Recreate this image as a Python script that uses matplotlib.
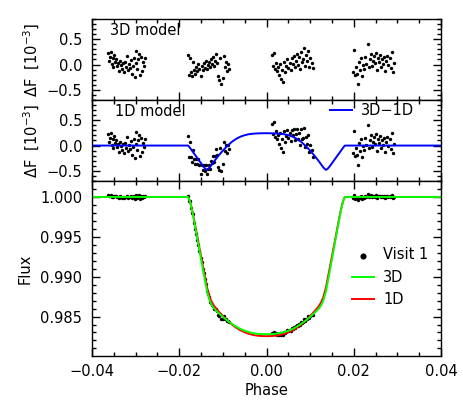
import matplotlib
matplotlib.use('Agg')
from matplotlib import pyplot as plt
from matplotlib.ticker import MultipleLocator, FuncFormatter

plt.rcParams['font.family'] = ['DejaVu Sans']
plt.rcParams['font.size'] = 10.5
plt.rcParams['axes.unicode_minus'] = True

# model curves (phase, flux of 3D and 1D limb darkening, 3D-1D in 1e-3)
model_phase = [-0.0400, -0.0180, -0.0178, -0.0175, -0.0170, -0.0165, -0.0160, -0.0155, -0.0150,
               -0.0145, -0.0140, -0.0136, -0.0130, -0.0125, -0.0120, -0.0110, -0.0100, -0.0090,
               -0.0080, -0.0070, -0.0060, -0.0050, -0.0040, -0.0030, -0.0020, -0.0010, 0.0000,
               0.0010, 0.0020, 0.0030, 0.0040, 0.0050, 0.0060, 0.0070, 0.0080, 0.0090, 0.0100,
               0.0110, 0.0120, 0.0125, 0.0130, 0.0136, 0.0140, 0.0145, 0.0150, 0.0155, 0.0160,
               0.0165, 0.0170, 0.0175, 0.0178, 0.0180, 0.0400]
model_3d = [1.00000, 1.00000, 0.99980, 0.99935, 0.99815, 0.99670, 0.99520, 0.99370, 0.99220,
            0.99070, 0.98925, 0.98810, 0.98695, 0.98640, 0.98600, 0.98545, 0.98495, 0.98450,
            0.98410, 0.98375, 0.98345, 0.98322, 0.98304, 0.98291, 0.98283, 0.98279, 0.98278,
            0.98279, 0.98283, 0.98291, 0.98304, 0.98322, 0.98345, 0.98375, 0.98410, 0.98450,
            0.98495, 0.98545, 0.98600, 0.98640, 0.98695, 0.98810, 0.98925, 0.99070, 0.99220,
            0.99370, 0.99520, 0.99670, 0.99815, 0.99935, 0.99980, 1.00000, 1.00000]
model_1d = [1.00000, 1.00000, 0.99982, 0.99940, 0.99826, 0.99687, 0.99543, 0.99399, 0.99255,
            0.99111, 0.98971, 0.98858, 0.98738, 0.98677, 0.98631, 0.98565, 0.98505, 0.98451,
            0.98403, 0.98362, 0.98328, 0.98302, 0.98282, 0.98268, 0.98259, 0.98255, 0.98254,
            0.98255, 0.98259, 0.98268, 0.98282, 0.98302, 0.98328, 0.98362, 0.98403, 0.98451,
            0.98505, 0.98565, 0.98631, 0.98677, 0.98738, 0.98858, 0.98971, 0.99111, 0.99255,
            0.99399, 0.99543, 0.99687, 0.99826, 0.99940, 0.99982, 1.00000, 1.00000]
diff_3d_1d = [0.00, 0.00, -0.015, -0.05, -0.11, -0.17, -0.23, -0.29, -0.35,
              -0.41, -0.46, -0.48, -0.43, -0.37, -0.31, -0.20, -0.10, -0.01,
              0.07, 0.13, 0.175, 0.205, 0.225, 0.235, 0.240, 0.243, 0.244,
              0.243, 0.240, 0.235, 0.225, 0.205, 0.175, 0.13, 0.07, -0.01,
              -0.10, -0.20, -0.31, -0.37, -0.43, -0.48, -0.46, -0.41, -0.35,
              -0.29, -0.23, -0.17, -0.11, -0.05, -0.015, 0.00, 0.00]

# visit 1 data: phase, flux, residuals (1e-3) against 3D and 1D models
phase = [
    # orbit 1
    -0.03640, -0.03618, -0.03596, -0.03574, -0.03552, -0.03530, -0.03508, -0.03486, -0.03464, -0.03442,
    -0.03420, -0.03398, -0.03376, -0.03354, -0.03332, -0.03310, -0.03288, -0.03266, -0.03244, -0.03222,
    -0.03200, -0.03178, -0.03156, -0.03134, -0.03112, -0.03090, -0.03068, -0.03046, -0.03024, -0.03002,
    -0.02980, -0.02958, -0.02936, -0.02914, -0.02892, -0.02870, -0.02848, -0.02826, -0.02804, -0.02782,
    # orbit 2
    -0.01800, -0.01776, -0.01752, -0.01728, -0.01704, -0.01680, -0.01656, -0.01632, -0.01608, -0.01584,
    -0.01560, -0.01536, -0.01512, -0.01488, -0.01464, -0.01440, -0.01416, -0.01392, -0.01368, -0.01344,
    -0.01320, -0.01296, -0.01272, -0.01248, -0.01224, -0.01200, -0.01176, -0.01152, -0.01128, -0.01104,
    -0.01080, -0.01056, -0.01032, -0.01008, -0.00984, -0.00960, -0.00936, -0.00912, -0.00888, -0.00864,
    # orbit 3
    0.00120, 0.00144, 0.00168, 0.00192, 0.00216, 0.00240, 0.00264, 0.00288, 0.00312, 0.00336,
    0.00360, 0.00384, 0.00408, 0.00432, 0.00456, 0.00480, 0.00504, 0.00528, 0.00552, 0.00576,
    0.00600, 0.00624, 0.00648, 0.00672, 0.00696, 0.00720, 0.00744, 0.00768, 0.00792, 0.00816,
    0.00840, 0.00864, 0.00888, 0.00912, 0.00936, 0.00960, 0.00984, 0.01008, 0.01032, 0.01056,
    # orbit 4
    0.01980, 0.02004, 0.02028, 0.02052, 0.02076, 0.02100, 0.02124, 0.02148, 0.02172, 0.02196,
    0.02220, 0.02244, 0.02268, 0.02292, 0.02316, 0.02340, 0.02364, 0.02388, 0.02412, 0.02436,
    0.02460, 0.02484, 0.02508, 0.02532, 0.02556, 0.02580, 0.02604, 0.02628, 0.02652, 0.02676,
    0.02700, 0.02724, 0.02748, 0.02772, 0.02796, 0.02820, 0.02844, 0.02868, 0.02892, 0.02916,
]
flux = [
    1.00022, 1.00008, 1.00015, 1.00025, 1.00002, 1.00012, 0.99995, 1.00018, 1.00006, 1.00010,
    0.99998, 1.00004, 0.99988, 1.00008, 1.00000, 0.99992, 1.00003, 0.99985, 1.00005, 0.99996,
    1.00016, 0.99990, 1.00001, 0.99994, 1.00009, 0.99982, 0.99998, 1.00012, 0.99975, 1.00004,
    1.00027, 0.99992, 1.00010, 1.00020, 0.99980, 1.00014, 0.99988, 1.00006, 0.99998, 1.00012,
    1.00018, 0.99954, 0.99952, 0.99867, 0.99803, 0.99791, 0.99677, 0.99598, 0.99539, 0.99460,
    0.99402, 0.99320, 0.99234, 0.99182, 0.99102, 0.99045, 0.98965, 0.98910, 0.98825, 0.98779,
    0.98739, 0.98687, 0.98674, 0.98640, 0.98633, 0.98598, 0.98595, 0.98594, 0.98564, 0.98525,
    0.98505, 0.98535, 0.98473, 0.98473, 0.98504, 0.98472, 0.98472, 0.98443, 0.98447, 0.98428,
    0.98298, 0.98279, 0.98304, 0.98275, 0.98288, 0.98274, 0.98284, 0.98270, 0.98295, 0.98268,
    0.98289, 0.98267, 0.98311, 0.98295, 0.98312, 0.98328, 0.98317, 0.98332, 0.98324, 0.98351,
    0.98347, 0.98368, 0.98355, 0.98375, 0.98394, 0.98383, 0.98404, 0.98391, 0.98431, 0.98422,
    0.98436, 0.98469, 0.98443, 0.98473, 0.98474, 0.98503, 0.98484, 0.98511, 0.98515, 0.98517,
    0.99985, 1.00028, 0.99980, 0.99995, 0.99982, 0.99962, 1.00005, 0.99990, 1.00012, 0.99978,
    1.00000, 0.99992, 1.00015, 1.00002, 1.00040, 0.99995, 1.00010, 1.00020, 0.99998, 1.00008,
    1.00016, 1.00003, 1.00022, 0.99990, 1.00012, 1.00006, 1.00018, 0.99996, 1.00010, 1.00002,
    1.00014, 0.99988, 1.00008, 1.00016, 1.00000, 1.00012, 0.99994, 1.00025, 0.99985, 1.00004,
]
res_3d = [
    0.22, 0.08, 0.15, 0.25, 0.02, 0.12, -0.05, 0.18, 0.06, 0.10,
    -0.02, 0.04, -0.12, 0.08, 0.00, -0.08, 0.03, -0.15, 0.05, -0.04,
    0.16, -0.10, 0.01, -0.06, 0.09, -0.18, -0.02, 0.12, -0.25, 0.04,
    0.27, -0.08, 0.10, 0.20, -0.20, 0.14, -0.12, 0.06, -0.02, 0.12,
    0.18, -0.20, 0.12, -0.15, -0.22, 0.05, -0.10, -0.18, -0.05, -0.12,
    0.02, -0.08, -0.22, -0.02, -0.10, 0.04, -0.06, 0.08, -0.08, 0.00,
    0.06, -0.04, 0.10, 0.02, 0.14, -0.02, 0.08, 0.20, 0.04, -0.22,
    -0.30, 0.12, -0.38, -0.26, 0.16, -0.05, 0.06, -0.12, 0.02, -0.08,
    0.18, -0.02, 0.22, -0.08, 0.04, -0.12, -0.04, -0.20, 0.02, -0.28,
    -0.10, -0.35, 0.06, -0.15, -0.02, 0.10, -0.06, 0.04, -0.10, 0.12,
    0.02, 0.16, -0.04, 0.08, 0.20, 0.00, 0.14, -0.08, 0.24, 0.06,
    0.10, 0.33, -0.02, 0.18, 0.08, 0.26, -0.04, 0.12, 0.04, -0.06,
    -0.15, 0.28, -0.20, -0.05, -0.18, -0.38, 0.05, -0.10, 0.12, -0.22,
    0.00, -0.08, 0.15, 0.02, 0.40, -0.05, 0.10, 0.20, -0.02, 0.08,
    0.16, 0.03, 0.22, -0.10, 0.12, 0.06, 0.18, -0.04, 0.10, 0.02,
    0.14, -0.12, 0.08, 0.16, 0.00, 0.12, -0.06, 0.25, -0.15, 0.04,
]
res_1d = [
    0.22, 0.08, 0.15, 0.25, 0.02, 0.12, -0.05, 0.18, 0.06, 0.10,
    -0.02, 0.04, -0.12, 0.08, 0.00, -0.08, 0.03, -0.15, 0.05, -0.04,
    0.16, -0.10, 0.01, -0.06, 0.09, -0.18, -0.02, 0.12, -0.25, 0.04,
    0.27, -0.08, 0.10, 0.20, -0.20, 0.14, -0.12, 0.06, -0.02, 0.12,
    0.18, -0.22, 0.07, -0.23, -0.33, -0.08, -0.26, -0.37, -0.27, -0.37,
    -0.26, -0.39, -0.56, -0.38, -0.49, -0.38, -0.50, -0.38, -0.56, -0.47,
    -0.39, -0.47, -0.30, -0.35, -0.20, -0.33, -0.20, -0.06, -0.19, -0.42,
    -0.48, -0.04, -0.51, -0.37, 0.07, -0.11, 0.02, -0.14, 0.02, -0.06,
    0.42, 0.22, 0.46, 0.16, 0.28, 0.12, 0.20, 0.04, 0.25, -0.05,
    0.13, -0.12, 0.28, 0.07, 0.19, 0.31, 0.14, 0.24, 0.09, 0.30,
    0.20, 0.32, 0.11, 0.22, 0.33, 0.12, 0.24, 0.01, 0.32, 0.12,
    0.14, 0.35, -0.02, 0.16, 0.04, 0.20, -0.13, 0.01, -0.09, -0.22,
    -0.15, 0.28, -0.20, -0.05, -0.18, -0.38, 0.05, -0.10, 0.12, -0.22,
    0.00, -0.08, 0.15, 0.02, 0.40, -0.05, 0.10, 0.20, -0.02, 0.08,
    0.16, 0.03, 0.22, -0.10, 0.12, 0.06, 0.18, -0.04, 0.10, 0.02,
    0.14, -0.12, 0.08, 0.16, 0.00, 0.12, -0.06, 0.25, -0.15, 0.04,
]


def fmt(spec):
    return FuncFormatter(lambda v, p: (spec % v).replace('-', '\u2212'))


def style(ax, ymajor, yminor):
    ax.set_xlim(-0.04, 0.04)
    ax.xaxis.set_major_locator(MultipleLocator(0.02))
    ax.xaxis.set_minor_locator(MultipleLocator(0.005))
    ax.yaxis.set_major_locator(MultipleLocator(ymajor))
    ax.yaxis.set_minor_locator(MultipleLocator(yminor))
    ax.tick_params(which='both', direction='in', top=True, right=True, width=1.0)
    ax.tick_params(which='major', length=6)
    ax.tick_params(which='minor', length=3)
    ax.tick_params(axis='y', pad=7)
    ax.tick_params(axis='x', pad=6)
    for s in ax.spines.values():
        s.set_linewidth(1.0)


fig = plt.figure(figsize=(4.63, 4.05), dpi=100)
ax1 = fig.add_axes([0.1987, 0.7531, 0.7538, 0.2])
ax2 = fig.add_axes([0.1987, 0.5531, 0.7538, 0.2])
ax3 = fig.add_axes([0.1987, 0.1210, 0.7538, 0.4321])

# 3D residuals
ax1.scatter(phase, res_3d, s=6, c='k', lw=0)
style(ax1, 0.5, 0.1)
ax1.set_ylim(-0.7, 0.9)
ax1.yaxis.set_major_formatter(fmt('%.1f'))
ax1.set_xticklabels([])
ax1.set_ylabel('\u0394F  [10$^{-3}$]')
ax1.yaxis.set_label_coords(-0.143, 0.5)
ax1.text(0.052, 0.86, '3D model', transform=ax1.transAxes, va='center', ha='left')

# 1D residuals
ax2.scatter(phase, res_1d, s=6, c='k', lw=0)
ax2.plot(model_phase, diff_3d_1d, color='#0000ff', lw=1.4, label='3D\u22121D')
style(ax2, 0.5, 0.1)
ax2.set_ylim(-0.7, 0.9)
ax2.yaxis.set_major_formatter(fmt('%.1f'))
ax2.set_xticklabels([])
ax2.set_ylabel('\u0394F  [10$^{-3}$]')
ax2.yaxis.set_label_coords(-0.143, 0.5)
ax2.text(0.066, 0.86, '1D model', transform=ax2.transAxes, va='center', ha='left')
ax2.legend(loc='upper right', bbox_to_anchor=(0.94, 1.03), borderaxespad=0, frameon=False,
           handlelength=1.5, handletextpad=0.6)

# light curve
ax3.scatter(phase, flux, s=6, c='k', lw=0, label='Visit 1')
ax3.plot(model_phase, model_1d, color='#ff0000', lw=1.4, label='1D')
ax3.plot(model_phase, model_3d, color='#00ff00', lw=1.4, label='3D')
style(ax3, 0.005, 0.001)
ax3.set_ylim(0.98005, 1.002)
ax3.yaxis.set_major_formatter(fmt('%.3f'))
ax3.xaxis.set_major_formatter(fmt('%.2f'))
ax3.set_ylabel('Flux')
ax3.yaxis.set_label_coords(-0.169, 0.5)
ax3.set_xlabel('Phase', labelpad=3)
h, l = ax3.get_legend_handles_labels()
ax3.legend([h[0], h[2], h[1]], [l[0], l[2], l[1]], loc='center right', bbox_to_anchor=(0.98, 0.45),
           borderaxespad=0, frameon=False, markerscale=1.8, handlelength=1.5, handletextpad=0.6)

plt.savefig('out.png', dpi=100)
